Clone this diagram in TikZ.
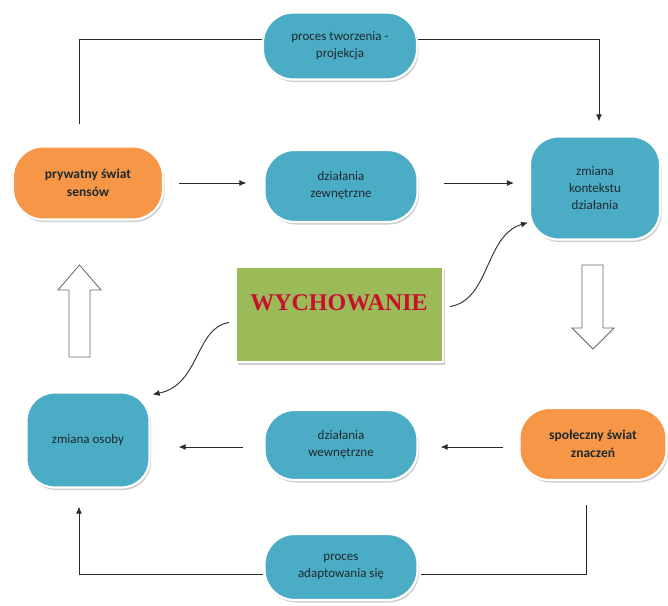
\documentclass[tikz,border=0pt]{standalone}
\usepackage{fontspec}
\setmainfont{Carlito}
\newfontfamily\wfont{Liberation Serif}
\usetikzlibrary{shadows,arrows.meta,calc}
\definecolor{cblue}{HTML}{4BACC6}
\definecolor{corange}{HTML}{F79646}
\definecolor{cgreen}{HTML}{9BBB59}
\definecolor{cred}{HTML}{C8102E}
\definecolor{ctext}{HTML}{1E2A2E}
\definecolor{cline}{HTML}{2B2B2B}
\tikzset{
  box/.style={draw=white, line width=2.2pt, rounded corners=30pt, align=center,
    text=ctext, font=\fontsize{13}{17}\selectfont, inner sep=2pt,
    drop shadow={shadow xshift=1.5pt, shadow yshift=-2.5pt, opacity=0.35, fill=black!55}},
  bluebox/.style={box, fill=cblue},
  orangebox/.style={box, fill=corange, font=\fontsize{13.5}{18}\selectfont\bfseries},
  conn/.style={draw=cline, line width=0.9pt, -{Latex[length=7pt,width=6pt]}},
  plain/.style={draw=cline, line width=0.9pt},
  hollow/.style={draw=black!60, fill=white, line width=0.8pt}
}
\begin{document}
\begin{tikzpicture}[x=1pt,y=-1pt]
\useasboundingbox (0,0) rectangle (668,605);
% nodes
\node[bluebox, minimum width=154pt, minimum height=67pt] (proc) at (340,46) {proces tworzenia -\\projekcja};
\node[orangebox, minimum width=150pt, minimum height=73pt] (pryw) at (88,183) {prywatny świat\\sensów};
\node[bluebox, minimum width=153pt, minimum height=72pt] (zew) at (341,186) {działania\\zewnętrzne};
\node[bluebox, minimum width=130pt, minimum height=103pt, rounded corners=28pt] (kont) at (595,188) {zmiana\\kontekstu\\działania};
\node[draw=white, line width=2.2pt, fill=cgreen, minimum width=207pt, minimum height=95pt,
  drop shadow={shadow xshift=1.5pt, shadow yshift=-2.5pt, opacity=0.35, fill=black!55}] (wych) at (339.5,314.5) {};
\node[text=cred, font=\wfont\fontsize{24}{28}\selectfont\bfseries] (wycht) at (339,303) {WYCHOWANIE};
\node[bluebox, minimum width=123pt, minimum height=95pt, rounded corners=28pt] (osoby) at (88,440) {zmiana osoby};
\node[bluebox, minimum width=153pt, minimum height=70pt] (wew) at (341,445) {działania\\wewnętrzne};
\node[orangebox, minimum width=147pt, minimum height=72pt] (spol) at (593,444) {społeczny świat\\znaczeń};
\node[bluebox, minimum width=153pt, minimum height=66pt] (adapt) at (341,567) {proces\\adaptowania się};
% hollow arrows
\draw[hollow] (69,357) -- (69,290) -- (58,290) -- (79.5,265) -- (101,290) -- (90,290) -- (90,357) -- cycle;
\draw[hollow] (582,265) -- (582,328) -- (572,328) -- (593,349) -- (614,328) -- (603,328) -- (603,265) -- cycle;
% coordinates for elbows
\coordinate (tl) at (79,39);
\coordinate (tr) at (599,39);
\coordinate (bl) at (79,574);
\coordinate (br) at (586,574);
% connectors
\draw[plain] ([xshift=-9pt,yshift=21pt]pryw.north) |- (proc.west |- tl);
\draw[conn] (proc.east |- tr) -| ([xshift=4pt,yshift=14pt]kont.north);
\draw[conn] ([xshift=15pt]pryw.east) -- ([xshift=-17pt]zew.west |- pryw.east);
\draw[conn] ([xshift=25pt]zew.east |- pryw.east) -- ([xshift=-15pt]kont.west |- pryw.east);
\draw[conn] ([xshift=-15pt]spol.west |- 0,447) -- ([xshift=22pt]wew.east |- 0,447);
\draw[conn] ([xshift=-20pt]wew.west |- 0,447) -- ([xshift=28pt]osoby.east |- 0,447);
\draw[plain] ([xshift=-7pt,yshift=-24pt]spol.south) |- ([xshift=2pt]adapt.east |- br);
\draw[conn] (adapt.west |- bl) -| ([xshift=-9pt,yshift=-18pt]osoby.south);
\draw[conn] ([xshift=6pt,yshift=8pt]wych.east) .. controls (490,300) and (485,235) .. ([xshift=-67pt,yshift=18pt]kont.south);
\draw[conn] ([xshift=-6pt,yshift=-8pt]wych.west) .. controls (195,328) and (200,385) .. ([xshift=2pt,yshift=-3pt]osoby.north east);
\end{tikzpicture}
\end{document}
